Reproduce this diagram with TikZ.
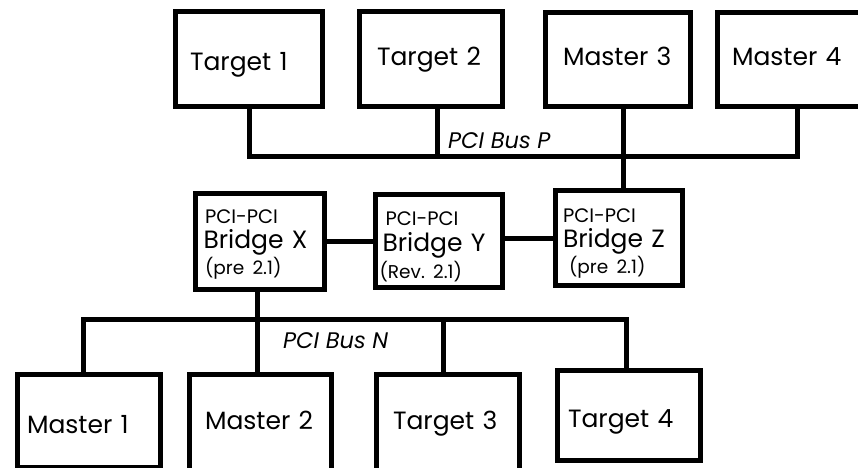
\documentclass[tikz,border=0pt]{standalone}
\usepackage{fontspec}
\setmainfont{Poppins}
\usetikzlibrary{calc}
\begin{document}
\begin{tikzpicture}[x=1pt,y=-1pt,
  box/.style={draw, line width=5pt, rectangle, align=left, inner ysep=0pt, text depth=0pt,
    font=\fontsize{25}{29}\selectfont},
  bridge/.style={draw, line width=5pt, rectangle, align=left, inner ysep=0pt,
    font=\fontsize{25}{25.5}\selectfont},
  wire/.style={line width=5pt},
  buslabel/.style={anchor=base west, inner sep=0pt, font=\fontsize{22.5}{26}\selectfont\itshape}]
\path[use as bounding box] (0,0) rectangle (858,467);
\clip (0,0) rectangle (858,467);
% top row
\node[box, minimum height=95pt, inner xsep=14.5pt, text width=118pt, text height=22pt] (T1) at (249,59) {Target 1};
\node[box, minimum height=95pt, inner xsep=17.5pt, text width=108pt, text height=12pt] (T2) at (431,59) {Target 2};
\node[box, minimum height=94pt, inner xsep=17.5pt, text width=110pt, text height=11pt] (M3) at (618,59.5) {Master 3};
\node[box, minimum height=94pt, inner xsep=14.5pt, text width=116pt, text height=11pt] (M4) at (790,59.5) {Master 4};
% bridges
\node[bridge, minimum height=96pt, inner xsep=8pt, text width=113pt, text height=10pt, text depth=47pt] (X) at (260,241.5)
  {\hspace*{1.5pt}{\fontsize{19.5}{25.5}\selectfont PCI-PCI}\\Bridge X\\\hspace*{1.5pt}{\fontsize{18.5}{25.5}\selectfont (pre 2.1)}};
\node[bridge, minimum height=93pt, inner xsep=4pt, text width=119pt, text height=10pt, text depth=42pt, font=\fontsize{25}{26.5}\selectfont] (Y) at (439,241)
  {\hspace*{6pt}{\fontsize{19.5}{26.5}\selectfont PCI-PCI}\\\hspace*{3pt}Bridge Y\\{\fontsize{18.5}{26.5}\selectfont (Rev.\ 2.1)}};
\node[bridge, minimum height=95pt, inner xsep=7.5pt, text width=112pt, text height=10pt, text depth=42pt] (Z) at (619,238)
  {{\fontsize{19.5}{25.5}\selectfont PCI-PCI}\\Bridge Z\\\hspace*{6pt}{\fontsize{18.5}{25.5}\selectfont (pre 2.1)}};
% bottom row
\node[box, minimum height=93pt, inner xsep=9.5pt, text width=124pt, text height=24pt] (M1) at (89,421) {Master 1};
\node[box, minimum height=96.5pt, inner xsep=15.5pt, text width=111pt, text height=14pt] (M2) at (260.5,422.75) {Master 2};
\node[box, minimum height=96.5pt, inner xsep=16.5pt, text width=110pt, text height=14pt] (T3) at (448,422.75) {Target 3};
\node[box, minimum height=90pt, inner xsep=10.5pt, text width=122pt, text height=23pt] (T4) at (629,415.5) {Target 4};
% bus P
\coordinate (pL) at (249,156);
\coordinate (pR) at (797,156);
\draw[wire] (T1.south) -- (pL) -- (pR) -- (pR |- M4.south);
\draw[wire] ([xshift=6pt]T2.south) -- ([xshift=6pt]T2.south |- pL);
\draw[wire] ([xshift=5pt]M3.south) -- ([xshift=5pt]M3.south |- Z.north);
\node[buslabel] (busP) at (448,148) {PCI Bus P};
% bridge links
\draw[wire] (X.east) -- (X.east -| Y.west);
\draw[wire] ([yshift=3pt]Y.east) -- (Z.west);
% bus N
\coordinate (nL) at (83,319);
\coordinate (nR) at (626,319);
\draw[wire] (M1.north -| nL) -- (nL) -- (nR) -- (nR |- T4.north);
\draw[wire] ([xshift=-3pt]X.south) -- ([xshift=-3pt]X.south |- M2.north);
\draw[wire] ([xshift=-5pt]T3.north) -- ([xshift=-5pt]T3.north |- nL);
\node[buslabel] (busN) at (283,348) {PCI Bus N};
\end{tikzpicture}
\end{document}
